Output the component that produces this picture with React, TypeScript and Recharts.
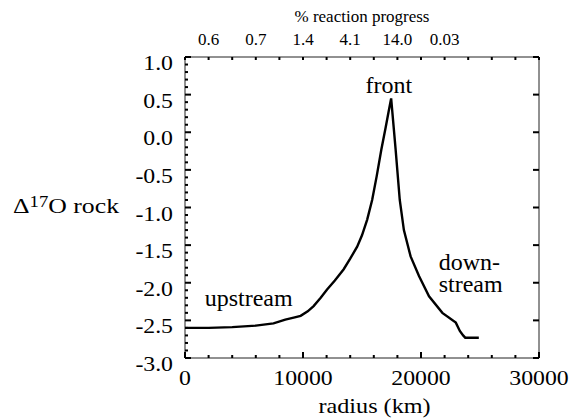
import React from 'react';
import { LineChart, Line, XAxis, YAxis, ReferenceDot, ReferenceArea } from 'recharts';

// radius (km) and Δ17O of the rock
const radius = [
  0, 2000, 4000, 6000, 7500, 8500, 9300, 9800, 10400, 10900, 11500, 12040,
  12700, 13450, 14000, 14590, 15000, 15440, 15860, 16250, 16640, 17000, 17250,
  17470, 17850, 18200, 18550, 19120, 19830, 20680, 21810, 22950, 23290, 23570,
  23750, 24900,
];
const delta17O = [
  -2.6, -2.6, -2.59, -2.57, -2.54, -2.49, -2.46, -2.44, -2.38, -2.31, -2.2, -2.09,
  -1.97, -1.82, -1.68, -1.52, -1.37, -1.16, -0.9, -0.58, -0.23, 0.06, 0.27,
  0.45, -0.23, -0.9, -1.3, -1.65, -1.91, -2.18, -2.4, -2.53, -2.64, -2.7,
  -2.73, -2.73,
];

const xTicks = [0, 2000, 4000, 6000, 8000, 10000, 12000, 14000, 16000, 18000, 20000, 22000, 24000, 26000, 28000, 30000];
const yTicks = [
  -3.0, -2.9, -2.8, -2.7, -2.6, -2.5, -2.4, -2.3, -2.2, -2.1,
  -2.0, -1.9, -1.8, -1.7, -1.6, -1.5, -1.4, -1.3, -1.2, -1.1,
  -1.0, -0.9, -0.8, -0.7, -0.6, -0.5, -0.4, -0.3, -0.2, -0.1,
  0.0, 0.1, 0.2, 0.3, 0.4, 0.5, 0.6, 0.7, 0.8, 0.9, 1.0,
];
const yMajorTicks = [-3.0, -2.5, -2.0, -1.5, -1.0, -0.5, 0.0, 0.5, 1.0];

// top axis: % reaction progress at given radii
const progressAt = [2000, 6000, 10000, 14000, 18000, 22000];
const progressText = ['0.6', '0.7', '1.4', '4.1', '14.0', '0.03'];

const notes = [
  { lines: ['front'], x: 17280, y: 0.52, anchor: 'middle' },
  { lines: ['upstream'], x: 5400, y: -2.31, anchor: 'middle' },
  { lines: ['down-', 'stream'], x: 21500, y: -1.83, anchor: 'start' },
];

const data = radius.map((r, i) => ({ r, d: delta17O[i] }));

const X_MIN = 0;
const X_MAX = 30000;
const Y_MIN = -3;
const Y_MAX = 1;

const INK = '#000000';
const FONT = '"Liberation Serif", "Times New Roman", serif';
const SX = 1.16; // the original lettering is a bit wider than Times

const isMajor = (v: number) => Math.abs(v * 2 - Math.round(v * 2)) < 1e-6;

// axis tick labels only; the marks themselves are drawn as reference dots
const LeftLabel = (props: any) => {
  const v = props.payload.value;
  if (!isMajor(v)) return <g />;
  return (
    <text transform={`translate(${props.x - 12},${props.y + 13}) scale(${SX},1)`} textAnchor="end"
      fontSize={20.5} fontFamily={FONT} fill={INK}>
      {v.toFixed(1)}
    </text>
  );
};

const BottomLabel = (props: any) => {
  const v = props.payload.value;
  if (v % 10000 !== 0) return <g />;
  return (
    <text transform={`translate(${props.x},${props.y + 27}) scale(${SX},1)`} textAnchor="middle"
      fontSize={20.5} fontFamily={FONT} fill={INK}>
      {v}
    </text>
  );
};

const TopLabel = (props: any) => {
  const i = progressAt.indexOf(props.payload.value);
  if (i < 0) return <g />;
  return (
    <text x={props.x} y={props.y - 12} textAnchor="middle" fontSize={17} fontFamily={FONT} fill={INK}>
      {progressText[i]}
    </text>
  );
};

const Note = ({ cx, cy, lines, anchor }: any) => (
  <text x={cx} y={cy} textAnchor={anchor} fontSize={24} fontFamily={FONT} fill={INK}>
    {lines.map((t: string, i: number) => (
      <tspan key={t} x={cx} dy={i === 0 ? 0 : 22}>{t}</tspan>
    ))}
  </text>
);

const hiddenAxis = { tickSize: 0, tickMargin: 0, tickLine: false, axisLine: false, interval: 0 as const };

export default function App() {
  return (
    <div style={{ position: 'absolute', left: 0, top: 0 }}>
      <LineChart
        width={572}
        height={420}
        data={data}
        margin={{ top: 56, right: 33, bottom: 61, left: 0 }}
      >
        <XAxis dataKey="r" type="number" domain={[X_MIN, X_MAX]} ticks={xTicks} height={1}
          {...hiddenAxis} tick={<BottomLabel />} />
        <XAxis xAxisId="top" orientation="top" dataKey="r" type="number" domain={[X_MIN, X_MAX]}
          ticks={xTicks} height={1} {...hiddenAxis} tick={<TopLabel />} />
        <YAxis dataKey="d" type="number" domain={[Y_MIN, Y_MAX]} ticks={yTicks} width={185}
          {...hiddenAxis} tick={<LeftLabel />} />

        {/* plot frame */}
        <ReferenceArea x1={X_MIN} x2={X_MAX} y1={Y_MIN} y2={Y_MAX} ifOverflow="visible"
          fill="none" fillOpacity={0} stroke="#222222" strokeWidth={1} />

        {/* inward tick marks */}
        {xTicks.map((t) => (
          <ReferenceDot key={`b${t}`} x={t} y={Y_MIN} r={0} ifOverflow="visible"
            shape={(p: any) => {
              const len = t % 10000 === 0 ? 6 : 3;
              return <rect x={p.cx - 1} y={p.cy - len} width={2} height={len} fill={INK} />;
            }} />
        ))}
        {xTicks.map((t) => (
          <ReferenceDot key={`t${t}`} x={t} y={Y_MAX} r={0} ifOverflow="visible"
            shape={(p: any) => <rect x={p.cx - 1} y={p.cy} width={2} height={3} fill={INK} />} />
        ))}
        {yTicks.map((v) => (
          <ReferenceDot key={`l${v}`} x={X_MIN} y={v} r={0} ifOverflow="visible"
            shape={(p: any) => (
              <rect x={p.cx} y={p.cy - 1} width={isMajor(v) ? 6 : 3} height={2} fill={INK} />
            )} />
        ))}
        {yMajorTicks.map((v) => (
          <ReferenceDot key={`r${v}`} x={X_MAX} y={v} r={0} ifOverflow="visible"
            shape={(p: any) => <rect x={p.cx - 6} y={p.cy - 1} width={6} height={2} fill={INK} />} />
        ))}

        {/* axis titles */}
        <ReferenceDot x={16060} y={Y_MIN} r={0} ifOverflow="visible"
          shape={(p: any) => (
            <text transform={`translate(${p.cx},${p.cy + 55}) scale(1.18,1)`} textAnchor="middle"
              fontSize={20.5} fontFamily={FONT} fill={INK}>
              radius (km)
            </text>
          )} />
        <ReferenceDot x={15000} y={Y_MAX} r={0} ifOverflow="visible"
          shape={(p: any) => (
            <text x={p.cx} y={p.cy - 35} textAnchor="middle" fontSize={17} fontFamily={FONT} fill={INK}>
              % reaction progress
            </text>
          )} />
        <ReferenceDot x={X_MIN} y={-1} r={0} ifOverflow="visible"
          shape={(p: any) => (
            <text transform={`translate(${p.cx - 172},${p.cy + 5.5}) scale(1.17,1)`}
              fontSize={22} fontFamily={FONT} fill={INK}>
              Δ<tspan fontSize={16} dy={-6}>17</tspan><tspan dy={6}>O rock</tspan>
            </text>
          )} />

        <Line
          type="linear"
          dataKey="d"
          stroke={INK}
          strokeWidth={2.4}
          dot={false}
          isAnimationActive={false}
        />
        {notes.map((n) => (
          <ReferenceDot
            key={n.lines[0]}
            x={n.x}
            y={n.y}
            r={0}
            ifOverflow="visible"
            shape={(p: any) => <Note cx={p.cx} cy={p.cy} lines={n.lines} anchor={n.anchor} />}
          />
        ))}
      </LineChart>
    </div>
  );
}
